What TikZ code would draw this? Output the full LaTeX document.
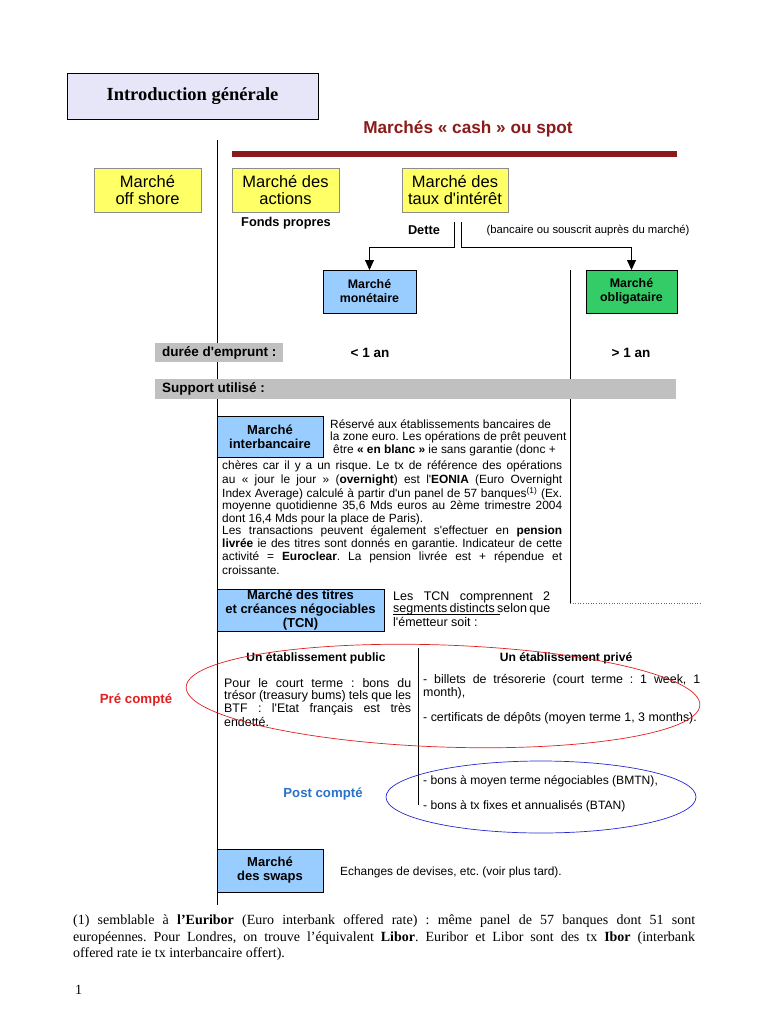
\documentclass[tikz,border=0pt]{standalone}
\usepackage{fontspec}
\setmainfont{Liberation Serif}
\newfontfamily\arial{Liberation Sans}
\usetikzlibrary{arrows.meta}
\definecolor{yel}{HTML}{FFFF66}
\definecolor{lblue}{HTML}{99CCFF}
\definecolor{grn}{HTML}{33CC66}
\definecolor{gbarc}{HTML}{C0C0C0}
\definecolor{lav}{HTML}{E6E6F8}
\definecolor{dred}{HTML}{8B1A1A}
\definecolor{ered}{HTML}{E02020}
\definecolor{eblue}{HTML}{2828D0}
\definecolor{pblue}{HTML}{2A72C8}
\newcommand\jline[2]{\makebox[#1][s]{#2}}
\newcommand\fs[2]{\fontsize{#1}{#2}\selectfont}
\newlength\ulw
\newcommand\myul[1]{\settowidth\ulw{#1}\rlap{\rule[-2.2pt]{\ulw}{0.6pt}}#1}
\frenchspacing
\begin{document}
\frenchspacing
\begin{tikzpicture}[x=1pt,y=-1pt,
  box/.style={anchor=north west, inner sep=1pt, outer sep=0pt, align=center, line width=0.6pt},
  ybox/.style={box, draw=black!45, fill=yel, font=\arial\fs{16.5}{17}},
  bbox/.style={box, draw=black, fill=lblue, font=\arial\bfseries\fs{13}{14}},
  gbar/.style={anchor=north west, fill=gbarc, inner sep=0pt, outer sep=0pt, minimum height=19pt},
  txt/.style={font=\arial\fs{11.9}{12}\frenchspacing, inner sep=0pt, anchor=west},
  btxt/.style={font=\arial\bfseries\fs{13.5}{14}, inner sep=0pt},
  arr/.style={line width=0.8pt, -{Triangle[width=9pt,length=10pt]}},
  ser/.style={font=\fs{14}{14}\frenchspacing, inner sep=0pt, anchor=west}
]
\useasboundingbox (0,0) rectangle (768,1024);

% title
\node[box, draw=black, fill=lav, minimum width=251pt, minimum height=46pt,
      font=\bfseries\fs{18.5}{19}] (title) at (67,73) {Introduction générale};

\node[font=\arial\bfseries\fs{17.2}{17}, text=dred, inner sep=0pt] (cash) at (468,129) {Marchés « cash » ou spot};
\coordinate (barL) at (232,154);
\coordinate (barR) at (677,154);
\draw[dred, line width=5.5pt] (barL) -- (barR);

% main vertical line
\coordinate (vtop) at (217,140);
\coordinate (vbot) at (217,905);
\draw[line width=0.8pt] (vtop) -- (vbot);

% yellow boxes
\node[ybox, minimum width=107pt, minimum height=44pt] (off) at (94,168) {Marché\\off shore};
\node[ybox, minimum width=107pt, minimum height=44pt] (act) at (232,168) {Marché des\\actions};
\node[ybox, minimum width=106pt, minimum height=44pt] (taux) at (402,168) {Marché des\\taux d'intérêt};

\node[btxt, font=\arial\bfseries\fs{12.8}{13}] (fp) at (286,223) {Fonds propres};
\node[btxt, font=\arial\bfseries\fs{12.8}{13}] (dette) at (424,230) {Dette};
\node[txt, font=\arial\fs{11.3}{12}, anchor=center] (banc) at (588,231) {(bancaire ou souscrit auprès du marché)};

% blue / green boxes
\node[bbox, font=\arial\bfseries\fs{12.4}{14}, minimum width=93pt, minimum height=43pt] (mon) at (323,270) {Marché\\monétaire};
\node[bbox, font=\arial\bfseries\fs{12.4}{14}, fill=grn, minimum width=91pt, minimum height=43pt] (obl) at (586,270) {Marché\\obligataire};

\coordinate (d1) at (454,222);
\coordinate (d2) at (461,222);
\draw[arr] (d1) -- ++(0,25) -| (mon.north);
\draw[arr] (d2) -- ++(0,25) -| (obl.north);

% right vertical line and dotted
\coordinate (rtop) at (570,270);
\coordinate (rbot) at (570,603);
\coordinate (rdot) at (702,603);
\draw[line width=0.8pt] (rtop) -- (rbot);
\draw[line width=0.6pt, dotted, black!60] (rbot) -- (rdot);

% grey bars
\node[gbar, minimum width=128pt] (duree) at (155,343) {};
\node[btxt, anchor=west] at (162,352.5) {durée d'emprunt :};
\node[btxt] at (370,353) {< 1 an};
\node[btxt] at (631,353) {> 1 an};
\node[gbar, minimum width=521pt, minimum height=20pt] (supp) at (155,379) {};
\node[btxt, anchor=west] at (162,389) {Support utilisé :};

% interbancaire
\node[bbox, minimum width=106pt, minimum height=41pt] (inter) at (217,416) {Marché\\interbancaire};
\node[txt] at (330,424) {Réservé aux établissements bancaires de};
\node[txt] at (330,437) {la zone euro. Les opérations de prêt peuvent};
\node[txt] at (333,450) {être \textbf{« en blanc »} ie sans garantie (donc +};
\node[txt] at (222,466) {\jline{340pt}{chères car il y a un risque. Le tx de référence des opérations}};
\node[txt] at (222,480) {\jline{340pt}{au « jour le jour » (\textbf{overnight}) est l'\textbf{EONIA} (Euro Overnight}};
\node[txt] at (222,493.5) {\jline{340pt}{Index Average) calculé à partir d'un panel de 57 banques\textsuperscript{(1)} (Ex.}};
\node[txt] at (222,506.5) {\jline{340pt}{moyenne quotidienne 35,6 Mds euros au 2ème trimestre 2004}};
\node[txt] at (222,519) {dont 16,4 Mds pour la place de Paris).};
\node[txt] at (222,531.5) {\jline{340pt}{Les transactions peuvent également s'effectuer en \textbf{pension}}};
\node[txt] at (222,544.5) {\jline{340pt}{\textbf{livrée} ie des titres sont donnés en garantie. Indicateur de cette}};
\node[txt] at (222,557.5) {\jline{340pt}{activité = \textbf{Euroclear}. La pension livrée est + répendue et}};
\node[txt] at (222,570.5) {croissante.};

% TCN
\node[bbox, minimum width=167pt, minimum height=42pt] (tcn) at (217,589) {Marché des titres\\et créances négociables\\(TCN)};
\node[txt, font=\arial\fs{12.5}{13}] at (393,597) {\jline{157pt}{Les TCN comprennent 2}};
\node[txt, font=\arial\fs{12.5}{13}] at (393,609.5) {\jline{157pt}{\myul{segments distincts }selon que}};
\node[txt, font=\arial\fs{12.5}{13}] at (393,622) {l'émetteur soit :};

\node[btxt, font=\arial\bfseries\fs{12.1}{13}] (pub) at (316,658) {Un établissement public};
\node[btxt, font=\arial\bfseries\fs{12.1}{13}] (priv) at (566,658) {Un établissement privé};
\coordinate (dvt) at (418,648);
\coordinate (dvb) at (418,805);
\draw[line width=0.8pt] (dvt) -- (dvb);

\node[txt, font=\arial\fs{12.4}{13}] at (224,683) {\jline{187pt}{Pour le court terme : bons du}};
\node[txt, font=\arial\fs{12.4}{13}] at (224,696) {\jline{187pt}{trésor (treasury bums) tels que les}};
\node[txt, font=\arial\fs{12.4}{13}] at (224,709) {\jline{187pt}{BTF : l'Etat français est très}};
\node[txt, font=\arial\fs{12.4}{13}] at (224,722) {endetté.};

\node[txt, font=\arial\fs{12.4}{13}] at (423,680) {\jline{277pt}{- billets de trésorerie (court terme : 1 week, 1}};
\node[txt, font=\arial\fs{12.4}{13}] at (423,693) {month),};
\node[txt, font=\arial\fs{12.4}{13}] at (423,718) {- certificats de dépôts (moyen terme 1, 3 months).};

\draw[ered, line width=0.7pt, rotate around={-2:(443,696)}] (443,696) ellipse [x radius=257pt, y radius=51pt];
\node[btxt, text=ered, font=\arial\bfseries\fs{13.3}{14}] (pre) at (136,700) {Pré compté};

\node[txt, font=\arial\fs{12.1}{13}] at (423,781) {- bons à moyen terme négociables (BMTN),};
\node[txt, font=\arial\fs{12.1}{13}] at (423,806) {- bons à tx fixes et annualisés (BTAN)};
\draw[eblue, line width=0.7pt] (541,797) ellipse [x radius=155pt, y radius=36pt];
\node[btxt, text=pblue, font=\arial\bfseries\fs{13.2}{14}] (post) at (323,794) {Post compté};

% swaps
\node[bbox, minimum width=106pt, minimum height=43pt] (swaps) at (217,849) {Marché\\des swaps};
\node[txt] at (340,872) {Echanges de devises, etc. (voir plus tard).};

% footnote
\node[ser] at (73,921) {\jline{622pt}{(1) semblable à \textbf{l'Euribor} (Euro interbank offered rate) : même panel de 57 banques dont 51 sont}};
\node[ser] at (73,938) {\jline{622pt}{européennes. Pour Londres, on trouve l'équivalent \textbf{Libor}. Euribor et Libor sont des tx \textbf{Ibor} (interbank}};
\node[ser] at (73,954) {offered rate ie tx interbancaire offert).};
\node[ser] at (75,990) {1};
\end{tikzpicture}
\end{document}
